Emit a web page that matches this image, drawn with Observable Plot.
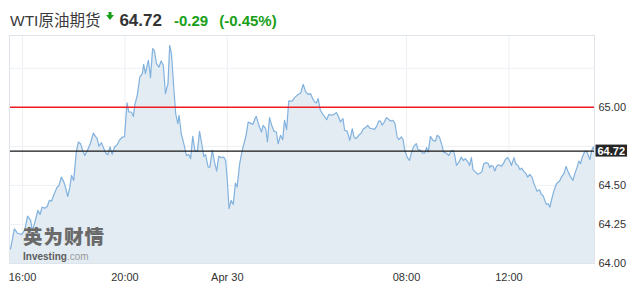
<!DOCTYPE html>
<html>
<head>
<meta charset="utf-8">
<script src="https://cdn.jsdelivr.net/npm/d3@7"></script>
<script src="https://cdn.jsdelivr.net/npm/@observablehq/plot@0.6"></script>
<style>
  html, body { margin: 0; padding: 0; background: #fff; }
  #wrap { position: relative; width: 631px; height: 303px; overflow: hidden; font-family: Arial, "Liberation Sans", sans-serif; }
  #title { height: 30px; box-sizing: border-box; padding: 11px 0 0 10px; line-height: 20px; white-space: nowrap; display: flex; align-items: baseline; }
  #title .name { font-size: 15.5px; color: #3a3a3a; font-family: Arial, "Liberation Sans", "Noto Sans CJK SC", sans-serif; }
  #title .arrow { display: inline-block; width: 8px; margin-left: 6px; align-self: flex-start; margin-top: 1px; }
  #title .price { font-size: 17px; font-weight: bold; color: #333; margin-left: 5px; }
  #title .chg { font-size: 15px; font-weight: bold; color: #18a018; margin-left: 12px; }
  #title .pct { font-size: 15px; font-weight: bold; color: #18a018; margin-left: 11px; }
  #logo { position: absolute; left: 23px; top: 226px; font-family: "Noto Sans CJK SC", sans-serif; font-weight: 900; font-size: 19.5px; letter-spacing: 1px; color: #6a6a6a; line-height: 20px; }
  #inv { position: absolute; left: 23px; top: 251px; font-size: 10px; font-weight: bold; color: #5c5c5c; line-height: 11px; }
  #inv span { font-weight: normal; color: #9a9a9a; }
</style>
</head>
<body>
<div id="wrap">
  <div id="title">
    <span class="name">WTI原油期货</span>
    <svg class="arrow" width="8" height="8" viewBox="0 0 8 8"><path d="M2.5 0 H5.5 V3 H8 L4 8 L0 3 H2.5 Z" fill="#18a018"/></svg>
    <span class="price">64.72</span>
    <span class="chg">-0.29</span>
    <span class="pct">(-0.45%)</span>
  </div>
  <div id="chart"></div>
  <div id="logo">英为财情</div>
  <div id="inv">Investing<span>.com</span></div>
</div>
<script>
// Trading minutes since 16:00 (break hour skipped), and prices
const minutes = [-28,-19,-12,-2,5,12,19,23,28,36,41,46,52,58,63,68,73,81,85,91,97,101,106,111,115,120,126,131,136,141,146,152,159,166,171,175,179,185,
189,195,200,205,210,216,222,227,234,239,245,249,255,260,263,269,275,281,284,288,295,300,305,309,314,320,325,330,335,341,345,349,355,359,364,367,372,378,384,390,394,399,404,
410,415,420,425,429,435,439,445,450,455,460,466,472,476,480,484,489,494,499,503,509,515,521,524,529,534,540,545,548,554,560,564,570,574,579,584,589,595,599,605,610,614,619,624,632,638,
645,652,658,663,669,675,680,685,689,693,698,704,709,713,718,724,730,736,741,745,751,755,761,767,773,777,782,788,794,799,804,809,814,820,825,830,835,839,843,848,853,859,
863,868,873,878,882,888,892,896,902,907,912,917,923,927,933,938,943,947,951,956,962,968,972,977,982,987,993,999,1005,1010,1013,1017,1023,1028,1033,1038,1044,1048,1052,1056,1062,1067,1073,1077,
1081,1087,1092,1095,1099,1103,1107,1111,1116,1122,1127,1132,1137,1142,1146,1152,1156,1161,1166,1170,1174,1179,1184,1189,1195,1198,1202,1206,1212,1216,1220,1224,1228,1232,1236,1240,1244,1249,1253,1259,1263,1269,1274,1279,1284,1290,1295,1300,1304,1308,1312,1317,1322,1326,1330,1334,1338,1341];
const prices = [64.094,64.222,64.194,64.186,64.212,64.303,64.276,64.212,64.254,64.340,64.314,64.361,64.354,64.365,64.404,64.399,64.436,64.489,64.496,64.553,64.521,64.485,64.429,64.489,64.564,64.532,64.713,64.778,64.767,64.724,64.692,64.724,64.767,64.835,64.814,64.799,64.750,64.774,
64.746,64.707,64.697,64.746,64.699,64.746,64.761,64.788,64.810,64.810,65.028,64.970,64.970,64.942,65.013,65.077,65.194,65.216,65.276,65.216,65.301,65.190,65.376,65.365,65.280,65.258,65.297,65.269,65.088,65.152,65.397,65.344,65.109,64.960,64.896,64.949,64.831,64.767,64.692,64.697,64.671,64.814,64.724,
64.720,64.846,64.767,64.686,64.697,64.617,64.617,64.724,64.649,64.592,64.686,64.678,64.681,64.660,64.532,64.351,64.404,64.378,64.515,64.489,64.639,64.724,64.788,64.821,64.906,64.899,64.891,64.928,64.942,64.885,64.842,64.885,64.863,64.778,64.935,64.885,64.848,64.842,64.767,64.821,64.793,64.917,64.857,65.040,65.040,65.062,
65.081,65.092,65.147,65.104,65.083,65.088,65.056,65.034,65.028,65.056,64.981,64.955,64.938,64.921,64.955,64.949,64.955,64.966,64.938,64.906,64.928,64.853,64.848,64.788,64.863,64.810,64.799,64.821,64.835,64.863,64.870,64.885,64.867,64.863,64.859,64.878,64.912,64.912,64.885,64.906,64.934,64.921,
64.912,64.917,64.896,64.810,64.793,64.810,64.793,64.724,64.678,64.660,64.713,64.750,64.767,64.729,64.724,64.707,64.707,64.742,64.713,64.814,64.788,64.784,64.821,64.810,64.767,64.713,64.707,64.692,64.720,64.724,64.692,64.628,64.649,64.681,64.660,64.671,64.649,64.628,64.678,64.601,64.585,64.571,64.579,64.590,
64.639,64.646,64.639,64.613,64.628,64.622,64.592,64.622,64.633,64.622,64.639,64.667,64.678,64.656,64.628,64.678,64.639,64.628,64.601,64.611,64.592,64.579,64.553,64.571,64.549,64.515,64.489,64.463,64.472,64.442,64.436,64.404,64.378,64.383,64.361,64.408,64.451,64.494,64.515,64.528,64.553,64.575,64.622,64.585,64.558,64.532,64.579,64.617,64.656,64.639,64.681,64.713,64.720,64.692,64.665,64.724,64.746,64.720];

const xTickMinutes = [0, 240, 480, 900, 1140];
const xTickLabels = ["16:00", "20:00", "Apr 30", "08:00", "12:00"];
const yTickValues = [64, 64.25, 64.5, 65];
const yGridValues = [64.25, 64.5, 64.75, 65, 65.25];
const referenceLevel = 65.00;
const lastPrice = 64.72;

const xDomain = [-30.5, 1340.6];
const yDomain = [64, 65.46];

const data = minutes.map((m, i) => ({ m, p: prices[i] }));
const labelOf = new Map(xTickMinutes.map((m, i) => [m, xTickLabels[i]]));

const chart = Plot.plot({
  width: 631,
  height: 273,
  marginTop: 5,
  marginBottom: 40,
  marginLeft: 9,
  marginRight: 37,
  x: { domain: xDomain, label: null },
  y: { domain: yDomain, label: null },
  style: { fontFamily: "Arial, 'Liberation Sans', sans-serif", fontSize: "11px", color: "#333", background: "#fff" },
  marks: [
    Plot.gridX(xTickMinutes, { stroke: "#edf0f4", strokeOpacity: 1 }),
    Plot.gridY(yGridValues, { stroke: "#edf0f4", strokeOpacity: 1 }),
    Plot.areaY(data, { x: "m", y1: () => yDomain[0], y2: "p", fill: "#e4ecf3" }),
    Plot.lineY(data, { x: "m", y: "p", stroke: "#82b2de", strokeWidth: 1.2 }),
    Plot.ruleY([referenceLevel], { stroke: "#ee1c24", strokeWidth: 1.5 }),
    Plot.ruleY([lastPrice], { stroke: "#161616", strokeWidth: 1.3 }),
    Plot.frame({ stroke: "#dfe4eb" }),
    Plot.axisX(xTickMinutes, { tickSize: 0, tickPadding: 10, tickFormat: d => labelOf.get(d), fill: "#333", label: null }),
    Plot.axisY(yTickValues, { anchor: "right", tickSize: 0, tickPadding: 4, tickFormat: d => d.toFixed(2), fill: "#333", label: null }),
    Plot.text([lastPrice], { y: d => d, frameAnchor: "right", textAnchor: "start", dx: 3, text: d => d.toFixed(2), fill: "#fff", fontWeight: "bold", fontSize: 11 })
  ]
});
document.getElementById("chart").appendChild(chart);

// Dark box behind the last-price label
try {
  const target = lastPrice.toFixed(2);
  const node = Array.from(chart.querySelectorAll("text")).find(t => t.textContent === target);
  if (node) {
    const svgBox = chart.getBoundingClientRect();
    const r = node.getBoundingClientRect();
    const holder = node.parentNode;
    const rect = document.createElementNS("http://www.w3.org/2000/svg", "rect");
    const inv = holder.getCTM().inverse();
    const p0 = new DOMPoint(r.left - svgBox.left - 2, r.top - svgBox.top).matrixTransform(inv);
    rect.setAttribute("x", p0.x);
    rect.setAttribute("y", p0.y);
    rect.setAttribute("width", r.width + 4);
    rect.setAttribute("height", r.height);
    rect.setAttribute("fill", "#262626");
    holder.insertBefore(rect, holder.firstChild);
  }
} catch (e) { console.error(e); }
</script>
</body>
</html>
